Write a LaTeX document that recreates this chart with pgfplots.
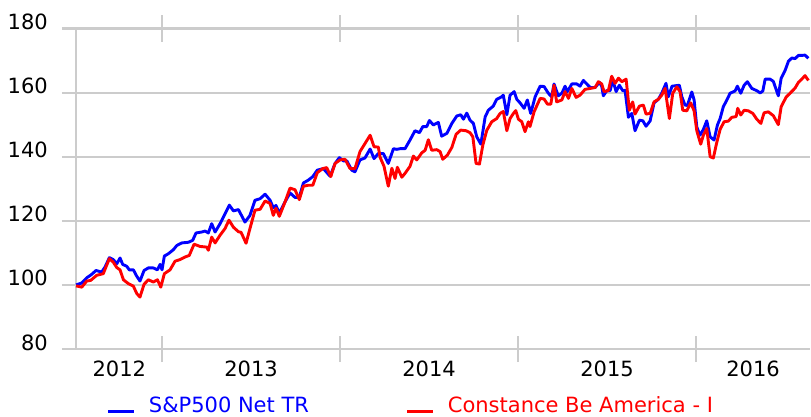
\documentclass[border=0pt]{standalone}
\usepackage{fontspec}
\setmainfont{DejaVu Sans}
\usepackage{pgfplots}
\usepackage{pgfplotstable}
\pgfplotsset{compat=1.18}
\definecolor{gridgray}{RGB}{204,204,204}
\definecolor{sblue}{RGB}{0,0,255}
\definecolor{cred}{RGB}{255,0,0}

\pgfplotstableread{
x y
2012.517 100.0
2012.549 100.6
2012.577 102.2
2012.605 103.3
2012.629 104.5
2012.661 104.0
2012.680 105.6
2012.704 108.5
2012.726 107.9
2012.746 106.6
2012.764 108.4
2012.779 106.4
2012.802 105.8
2012.816 104.7
2012.839 104.7
2012.858 102.7
2012.876 101.2
2012.899 104.5
2012.923 105.3
2012.951 105.3
2012.974 104.7
2012.989 106.4
2013.000 104.7
2013.013 109.0
2013.035 109.7
2013.064 111.0
2013.083 112.3
2013.111 113.1
2013.148 113.3
2013.172 113.9
2013.191 116.2
2013.223 116.5
2013.242 116.8
2013.260 116.2
2013.279 119.1
2013.298 116.5
2013.326 119.1
2013.354 122.2
2013.378 124.9
2013.401 123.1
2013.429 123.5
2013.466 119.6
2013.494 121.7
2013.522 126.4
2013.551 126.9
2013.579 128.3
2013.607 126.4
2013.625 124.1
2013.640 124.8
2013.659 122.4
2013.691 125.9
2013.719 128.7
2013.747 127.3
2013.771 127.3
2013.794 131.8
2013.822 132.7
2013.847 133.8
2013.872 135.8
2013.906 136.3
2013.944 133.9
2013.972 137.9
2013.996 139.7
2014.019 138.7
2014.038 138.7
2014.066 135.8
2014.084 135.3
2014.112 139.0
2014.140 139.6
2014.169 142.4
2014.191 139.4
2014.215 141.0
2014.243 141.0
2014.271 137.9
2014.300 142.5
2014.319 142.3
2014.337 142.5
2014.365 142.5
2014.393 145.2
2014.421 148.1
2014.446 147.5
2014.465 149.4
2014.487 149.4
2014.502 151.3
2014.524 149.9
2014.552 150.7
2014.571 146.4
2014.600 147.3
2014.628 150.4
2014.656 152.7
2014.678 153.1
2014.693 151.7
2014.712 153.6
2014.730 151.4
2014.749 150.4
2014.768 146.2
2014.791 143.9
2014.815 152.4
2014.833 154.5
2014.861 155.8
2014.880 157.9
2014.908 158.7
2014.917 159.2
2014.937 153.1
2014.955 159.2
2014.978 160.3
2014.993 157.9
2015.011 156.8
2015.034 155.1
2015.052 157.7
2015.071 153.5
2015.096 158.7
2015.124 162.0
2015.146 161.9
2015.170 159.8
2015.189 158.7
2015.202 162.7
2015.226 159.0
2015.246 159.8
2015.264 162.0
2015.277 160.3
2015.302 162.7
2015.330 162.7
2015.348 162.0
2015.367 163.8
2015.386 162.7
2015.405 161.6
2015.433 161.6
2015.457 163.2
2015.470 162.0
2015.479 159.0
2015.498 160.6
2015.517 160.6
2015.532 163.9
2015.551 160.3
2015.569 162.3
2015.588 160.6
2015.601 160.7
2015.620 152.3
2015.639 153.5
2015.657 148.1
2015.682 151.4
2015.701 151.2
2015.719 149.5
2015.742 151.2
2015.764 156.8
2015.788 157.9
2015.807 159.8
2015.831 162.9
2015.844 158.7
2015.865 162.0
2015.906 162.3
2015.920 158.7
2015.938 156.1
2015.951 156.0
2015.976 160.2
2015.989 157.7
2016.004 149.3
2016.022 146.7
2016.041 148.5
2016.060 151.2
2016.079 146.2
2016.101 145.2
2016.120 149.9
2016.135 151.9
2016.153 155.6
2016.173 157.7
2016.191 159.8
2016.219 160.5
2016.232 162.0
2016.251 159.8
2016.270 162.3
2016.288 163.4
2016.313 161.3
2016.341 160.6
2016.360 159.9
2016.375 160.5
2016.388 164.2
2016.416 164.2
2016.434 163.5
2016.462 159.0
2016.478 164.5
2016.500 166.9
2016.519 169.8
2016.538 170.8
2016.556 170.6
2016.575 171.6
2016.594 171.6
2016.612 171.7
2016.631 170.7
}\sptable

\pgfplotstableread{
x y
2012.517 99.7
2012.549 99.3
2012.577 101.2
2012.599 101.4
2012.633 103.0
2012.670 103.5
2012.704 108.2
2012.726 107.1
2012.746 105.4
2012.764 104.7
2012.783 101.6
2012.811 100.4
2012.839 99.6
2012.858 97.3
2012.876 96.2
2012.899 100.2
2012.923 101.6
2012.951 100.9
2012.974 101.6
2012.993 99.3
2013.013 103.5
2013.045 104.7
2013.073 107.4
2013.101 107.9
2013.129 108.7
2013.153 109.2
2013.180 112.7
2013.214 112.0
2013.251 111.8
2013.260 110.8
2013.279 114.9
2013.298 113.1
2013.326 115.5
2013.354 117.6
2013.376 120.2
2013.401 118.0
2013.429 116.6
2013.444 116.4
2013.472 113.0
2013.494 117.6
2013.522 123.3
2013.551 123.6
2013.579 126.2
2013.607 125.4
2013.625 121.7
2013.640 123.9
2013.659 121.4
2013.691 125.9
2013.719 130.2
2013.747 129.7
2013.771 126.6
2013.794 130.8
2013.822 131.1
2013.847 131.1
2013.872 135.0
2013.903 136.3
2013.925 136.6
2013.948 133.8
2013.972 137.9
2014.000 139.0
2014.028 139.2
2014.056 136.3
2014.084 136.3
2014.112 141.6
2014.140 144.1
2014.169 146.7
2014.191 143.1
2014.215 143.0
2014.225 139.8
2014.247 137.0
2014.271 130.8
2014.291 136.4
2014.309 133.2
2014.322 136.7
2014.347 133.6
2014.365 134.8
2014.393 137.0
2014.412 140.2
2014.431 139.0
2014.459 141.2
2014.478 142.0
2014.496 145.3
2014.515 142.0
2014.543 142.2
2014.562 141.6
2014.577 139.2
2014.603 140.5
2014.628 142.9
2014.652 147.0
2014.678 148.3
2014.708 148.1
2014.730 147.5
2014.746 146.2
2014.764 137.9
2014.783 137.7
2014.802 143.6
2014.824 148.2
2014.852 150.9
2014.880 151.9
2014.899 153.5
2014.917 154.1
2014.937 148.1
2014.955 151.9
2014.974 153.5
2014.987 154.4
2015.002 151.7
2015.021 150.9
2015.039 147.8
2015.058 150.9
2015.067 149.4
2015.090 154.0
2015.124 158.2
2015.146 158.0
2015.165 156.4
2015.184 156.4
2015.202 162.3
2015.217 157.1
2015.246 157.7
2015.264 160.3
2015.283 158.2
2015.302 161.3
2015.326 158.5
2015.348 159.2
2015.376 161.0
2015.405 161.3
2015.433 161.6
2015.451 163.4
2015.470 162.7
2015.483 160.3
2015.507 160.6
2015.526 165.1
2015.545 162.9
2015.564 164.5
2015.583 163.4
2015.607 164.2
2015.625 154.5
2015.644 157.1
2015.657 153.3
2015.682 155.8
2015.704 156.1
2015.719 153.3
2015.742 153.5
2015.764 157.1
2015.788 157.9
2015.807 159.2
2015.826 161.3
2015.850 151.9
2015.869 159.8
2015.892 161.8
2015.910 160.3
2015.925 154.5
2015.948 154.3
2015.970 156.8
2015.989 154.3
2016.004 148.1
2016.026 143.9
2016.041 146.7
2016.060 148.8
2016.079 140.0
2016.097 139.6
2016.116 144.4
2016.135 148.5
2016.157 150.9
2016.181 151.1
2016.201 152.3
2016.225 152.5
2016.234 155.1
2016.251 153.0
2016.270 154.5
2016.294 154.3
2016.319 153.5
2016.341 151.7
2016.364 150.4
2016.382 153.7
2016.406 154.0
2016.434 152.8
2016.462 150.0
2016.478 155.6
2016.506 158.6
2016.528 159.8
2016.556 161.4
2016.575 163.2
2016.594 164.2
2016.612 165.3
2016.631 163.8
}\crtable

\begin{document}
\begin{tikzpicture}[x=1pt,y=1pt]
\useasboundingbox (0,0) rectangle (811,416);
\begin{axis}[
  at={(62pt,67pt)}, anchor=south west,
  scale only axis, width=748pt, height=320.5pt,
  xmin=2012.438, xmax=2016.640, ymin=80, ymax=180,
  axis line style={draw=none},
  ytick={80,100,...,180},
  ymajorgrids, grid style={gridgray, line width=2.2pt},
  y tick style={draw=none},
  /pgf/number format/assume math mode=true,
  tick label style={font=\fontsize{21}{26}\selectfont},
  yticklabel style={anchor=base east, inner sep=0pt, xshift=-1pt, yshift=-1pt},
  xtick={2013,2014,2015,2016}, xticklabels={},
  x tick style={gridgray, line width=2.2pt},
  tick align=center, major tick length=26pt,
  extra x ticks={2012.76,2013.5,2014.5,2015.5,2016.32},
  extra x tick labels={2012,2013,2014,2015,2016},
  extra x tick style={major tick length=0pt, grid=none,
     xticklabel style={anchor=base, inner sep=0pt, yshift=-27pt}},
  legend columns=2,
  legend cell align=left,
  legend image code/.code={\draw[#1, line width=2.9pt] (0pt,-6pt) -- (26pt,-6pt);},
  legend style={at={(0.0602,-0.175)}, anchor=west, draw=none, fill=none,
     inner sep=0pt, outer sep=0pt, font=\fontsize{21}{26}\selectfont,
     nodes={inner sep=0pt},
     /tikz/every odd column/.append style={column sep=13pt},
     /tikz/every even column/.append style={column sep=97pt}},
]
\draw[gridgray, line width=2.2pt] (axis cs:2012.517,80) -- (axis cs:2012.517,180);
\addplot[sblue, line width=2.9pt, line join=round] table[x=x,y=y] {\sptable};
\addlegendentry{\textcolor{sblue}{S\&P500 Net TR}}
\addplot[cred, line width=2.9pt, line join=round] table[x=x,y=y] {\crtable};
\addlegendentry{\textcolor{cred}{Constance Be America - I}}
\end{axis}
\end{tikzpicture}
\end{document}
